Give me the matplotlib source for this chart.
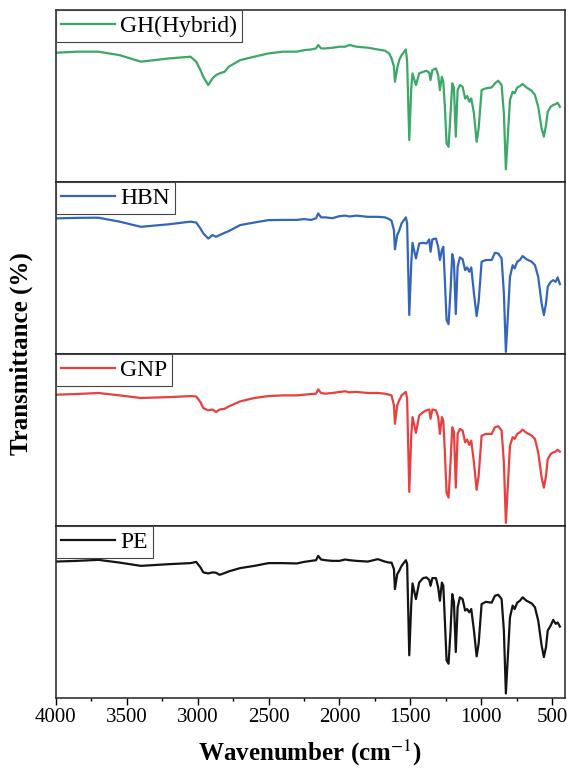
import numpy as np
import matplotlib
matplotlib.use('Agg')
import matplotlib.pyplot as plt
from matplotlib.ticker import MultipleLocator

plt.rcParams['font.family'] = ['Liberation Serif', 'DejaVu Serif']
plt.rcParams['mathtext.fontset'] = 'stix'

# wavenumber grid (cm-1), shared by all spectra
wavenumber = [
    4000, 3850, 3700, 3550, 3400, 3200, 3050, 3010, 2980, 2960,
    2925, 2895, 2870, 2845, 2810, 2780, 2700, 2600, 2500, 2400,
    2300, 2250, 2200, 2165, 2150, 2130, 2100, 2050, 2000, 1960,
    1930, 1880, 1800, 1730, 1680, 1650,
    1633, 1616, 1609, 1593, 1579, 1562, 1532, 1523, 1508, 1494,
    1485, 1461, 1438, 1410, 1387, 1367, 1358, 1345, 1320, 1304,
    1292, 1278, 1268, 1257, 1245, 1231, 1217, 1205, 1193, 1180,
    1167, 1151, 1132, 1114, 1100, 1085, 1071, 1052, 1033, 1019,
    998, 968, 927, 904, 881, 857, 841, 827, 812, 798,
    779, 765, 747, 728, 709, 681, 645, 622, 599, 575,
    559, 544, 532, 511, 493, 476, 462, 446,
]

t_gh = [
    75.2, 75.8, 75.8, 73.8, 70.0, 71.9, 72.9, 70.0, 65.1, 61.2,
    56.4, 60.3, 62.2, 63.2, 64.1, 67.1, 70.9, 72.9, 74.8, 75.8,
    75.8, 76.7, 77.1, 77.7, 79.7, 77.7, 77.7, 78.1, 78.7, 78.7,
    79.7, 78.7, 78.1, 77.1, 76.4, 74.8,
    71.9, 67.1, 58.3, 66.1, 70.9, 73.8, 77.1, 70.0, 24.4, 54.5,
    63.2, 56.4, 63.2, 64.1, 64.7, 63.6, 59.3, 65.1, 66.1, 62.2,
    53.5, 61.2, 58.3, 43.8, 22.5, 20.5, 39.9, 57.4, 55.0, 26.4,
    53.5, 56.4, 55.4, 48.6, 50.0, 46.7, 48.6, 39.9, 23.4, 31.2,
    53.5, 54.5, 55.0, 57.4, 58.9, 56.4, 39.9, 7.4, 28.3, 47.7,
    52.5, 51.6, 55.0, 55.8, 57.0, 55.0, 53.1, 50.6, 43.8, 31.2,
    26.4, 33.1, 40.9, 43.8, 44.8, 45.3, 46.1, 43.8,
]

t_hbn = [
    78.9, 79.2, 79.3, 77.0, 74.0, 75.5, 77.0, 76.5, 73.0, 70.2,
    67.2, 69.2, 68.2, 69.2, 70.5, 71.5, 75.0, 76.5, 77.9, 78.0,
    78.0, 78.5, 78.0, 79.0, 81.8, 79.5, 79.5, 79.0, 80.2, 80.5,
    80.0, 80.5, 79.8, 79.8, 79.5, 78.5,
    77.5, 72.1, 60.9, 69.2, 71.7, 76.0, 79.5, 76.0, 22.7, 52.7,
    64.7, 55.6, 64.3, 64.7, 64.3, 66.7, 59.5, 66.7, 67.2, 62.4,
    54.7, 60.5, 62.4, 43.0, 19.8, 17.4, 37.2, 58.1, 53.7, 23.3,
    50.8, 56.2, 55.2, 48.8, 50.4, 47.9, 50.4, 35.3, 22.1, 30.4,
    53.7, 54.7, 54.7, 58.9, 58.5, 55.6, 35.3, 1.3, 23.6, 44.9,
    51.7, 49.8, 53.7, 54.7, 57.0, 55.1, 53.7, 51.7, 44.9, 29.5,
    22.7, 29.5, 39.1, 42.0, 43.0, 42.0, 44.6, 40.7,
]

t_gnp = [
    76.4, 76.8, 77.4, 76.0, 74.5, 75.0, 75.6, 75.4, 72.1, 68.6,
    67.3, 67.8, 66.3, 67.8, 68.2, 69.6, 72.5, 74.5, 75.6, 76.0,
    76.0, 76.4, 76.8, 77.0, 79.5, 77.4, 77.0, 77.4, 78.0, 78.4,
    77.8, 78.0, 77.4, 77.4, 77.0, 76.4,
    76.0, 70.2, 59.5, 70.2, 73.1, 76.0, 78.0, 74.1, 19.9, 52.6,
    63.4, 54.2, 64.3, 66.3, 67.3, 67.8, 62.4, 67.8, 67.3, 63.4,
    53.6, 63.4, 61.4, 42.9, 19.5, 16.6, 37.0, 57.5, 55.0, 22.4,
    53.6, 56.5, 55.6, 48.7, 50.3, 47.2, 49.7, 37.0, 21.1, 29.2,
    52.6, 53.6, 53.6, 57.5, 58.1, 55.6, 37.0, 1.9, 25.3, 46.8,
    51.7, 50.7, 53.6, 54.6, 56.1, 54.2, 52.6, 50.7, 42.9, 28.3,
    22.4, 29.2, 39.0, 41.9, 42.9, 43.3, 44.4, 43.3,
]

t_pe = [
    79.4, 79.8, 80.4, 78.8, 76.9, 77.9, 78.5, 79.2, 76.0, 73.1,
    72.5, 73.1, 72.9, 71.7, 72.7, 73.7, 75.6, 76.9, 78.5, 78.5,
    78.3, 79.2, 79.8, 80.2, 82.7, 80.6, 80.2, 79.8, 79.8, 80.6,
    80.2, 79.8, 79.4, 80.8, 79.4, 78.8,
    78.8, 75.0, 63.4, 72.0, 74.0, 76.9, 80.2, 78.0, 24.9, 54.7,
    66.7, 57.6, 67.2, 69.8, 70.2, 68.7, 65.3, 69.8, 69.8, 64.3,
    56.6, 67.2, 65.3, 45.1, 22.0, 20.0, 39.3, 60.5, 55.7, 26.8,
    52.8, 58.6, 57.6, 50.9, 51.8, 49.9, 51.8, 39.3, 24.3, 31.6,
    54.7, 56.0, 55.5, 59.5, 60.1, 57.6, 39.3, 2.7, 25.8, 47.0,
    53.8, 51.8, 55.5, 56.6, 58.6, 56.6, 55.1, 52.8, 45.1, 30.6,
    23.9, 29.7, 39.3, 42.2, 45.5, 43.2, 44.0, 41.6,
]

labels = ['GH(Hybrid)', 'HBN', 'GNP', 'PE']
colors = ['#3aa866', '#3366bb', '#e8403f', '#141414']
spectra = [t_gh, t_hbn, t_gnp, t_pe]

fig, axes = plt.subplots(4, 1, sharex=True, figsize=(5.69, 7.74), dpi=100)
fig.subplots_adjust(left=0.098, right=0.993, top=0.987, bottom=0.098, hspace=0)

for ax, t, lab, c in zip(axes, spectra, labels, colors):
    ax.plot(wavenumber, t, color=c, lw=1.6, label=lab)
    ax.set_ylim(0, 100)
    ax.set_yticks([])
    for s in ax.spines.values():
        s.set_linewidth(1.1)
        s.set_color('#222222')
    leg = ax.legend(loc='upper left', borderaxespad=0, fontsize=17,
                    fancybox=False, framealpha=1, edgecolor='#444444',
                    handlelength=2.3, handletextpad=0.2, borderpad=0.22)
    leg.get_frame().set_linewidth(0.8)
    ax.tick_params(axis='x', which='both', bottom=False, top=False)

ax = axes[-1]
ax.set_xlim(4000, 410)
ax.xaxis.set_major_locator(MultipleLocator(500))
ax.xaxis.set_minor_locator(MultipleLocator(250))
ax.tick_params(axis='x', which='major', bottom=True, direction='out',
               length=4.8, width=1, labelsize=15, pad=2)
ax.tick_params(axis='x', which='minor', bottom=True, direction='out',
               length=2.4, width=1)
ax.set_xlabel(r'Wavenumber (cm$^{-1}$)', fontsize=18,
              fontweight='bold', labelpad=8)

fig.text(0.038, 0.543, 'Transmittance (%)', rotation=90, fontsize=18,
         fontweight='bold', ha='center', va='center')

fig.savefig('out.png', dpi=100)
